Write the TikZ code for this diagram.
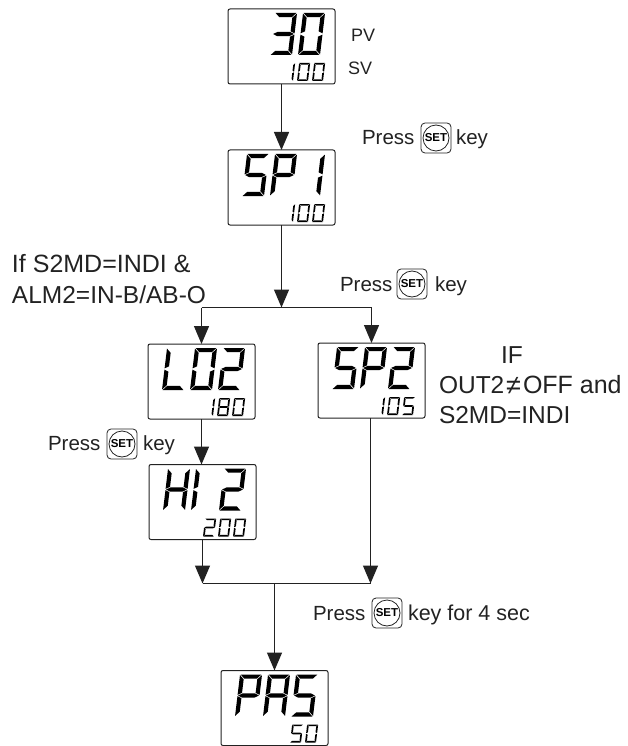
\documentclass[tikz,border=0pt]{standalone}
\usepackage{fontspec}
\setmainfont{Liberation Sans}
\usetikzlibrary{arrows.meta}
\definecolor{ink}{HTML}{222222}
\tikzset{
  screen/.style={draw=ink,line width=1pt,rounded corners=2pt,minimum width=107pt,minimum height=75pt,inner sep=0,outer sep=0},
  flow/.style={draw=ink,line width=1.3pt},
  arrowflow/.style={flow,-{Triangle[length=18pt,width=15pt]}},
  lab/.style={anchor=base west,inner sep=0,outer sep=0,text=ink,font=\fontsize{24.5}{24.5}\selectfont},
  widelab/.style={lab,font=\fontsize{25}{25}\selectfont},
  nelab/.style={lab,font=\fontsize{27}{27}\selectfont},
  presslab/.style={lab,font=\fontsize{20.5}{20.5}\selectfont},
  longlab/.style={lab,font=\fontsize{21.5}{21.5}\selectfont},
  svlab/.style={lab,font=\fontsize{18}{18}\selectfont},
  keybox/.style={draw=ink,line width=.8pt,rounded corners=4pt,minimum size=30pt,inner sep=0,outer sep=0},
  keydisc/.style={draw=ink,line width=.8pt,circle,minimum size=26pt,inner sep=0,text=black,font=\fontsize{11.5}{11.5}\selectfont\bfseries},
  seg/.style={fill=black,draw=none}
}
\newcommand\sega{\fill[seg] (\G,\H)--(\W-\G,\H)--(\W-\G-\T,\H-\T)--(\G+\T,\H-\T)--cycle;}
\newcommand\segd{\fill[seg] (\G,0)--(\W-\G,0)--(\W-\G-\T,\T)--(\G+\T,\T)--cycle;}
\newcommand\segg{\fill[seg] (\G,\H/2)--(\G+\T,\H/2+\T/2)--(\W-\G-\T,\H/2+\T/2)--(\W-\G,\H/2)--(\W-\G-\T,\H/2-\T/2)--(\G+\T,\H/2-\T/2)--cycle;}
\newcommand\segf{\fill[seg] (0,\H-\G)--(\T,\H-\G-\T)--(\T,\H/2+\G+\T/2)--(0,\H/2+\G)--cycle;}
\newcommand\sege{\fill[seg] (0,\G)--(\T,\G+\T)--(\T,\H/2-\G-\T/2)--(0,\H/2-\G)--cycle;}
\newcommand\segb{\fill[seg] (\W,\H-\G)--(\W-\T,\H-\G-\T)--(\W-\T,\H/2+\G+\T/2)--(\W,\H/2+\G)--cycle;}
\newcommand\segc{\fill[seg] (\W,\G)--(\W-\T,\G+\T)--(\W-\T,\H/2-\G-\T/2)--(\W,\H/2-\G)--cycle;}
% big digit: box, cell, segments
\newcommand\bigd[3]{\begin{scope}[x=1pt,y=1pt,shift={(#1.north west)},shift={(14+28*#2,-46)},xslant=.12]
  \def\W{22}\def\H{42}\def\T{4.2}\def\G{.6}
  \foreach \sg in {#3}{\csname seg\sg\endcsname}
\end{scope}}
% small digit
\newcommand\smalld[3]{\begin{scope}[x=1pt,y=1pt,shift={(#1.north west)},shift={(54+15*#2,-72)},xslant=.12]
  \def\W{11}\def\H{18}\def\T{1.7}\def\G{.3}
  \foreach \sg in {#3}{\csname seg\sg\endcsname}
\end{scope}}
\newcommand\setkey[3]{\node[keybox] (#1) at (#2,#3) {}; \node[keydisc] at (#1) {SET};}
\begin{document}
\begin{tikzpicture}[x=1pt,y=-1pt]
\useasboundingbox (0,0) rectangle (627,746);
% screens
\node[screen] (pv) at (281.5,46.5) {};
\node[screen] (spa) at (281.5,187.5) {};
\node[screen] (lo) at (201.5,381.5) {};
\node[screen] (hi) at (202.5,502) {};
\node[screen] (spb) at (371.5,380.5) {};
\node[screen] (pas) at (274.5,708) {};
% big digits
\bigd{pv}{1}{a,b,c,d,g}\bigd{pv}{2}{a,b,c,d,e,f}
\smalld{pv}{0}{b,c}\smalld{pv}{1}{a,b,c,d,e,f}\smalld{pv}{2}{a,b,c,d,e,f}
\bigd{spa}{0}{a,c,d,f,g}\bigd{spa}{1}{a,b,e,f,g}\bigd{spa}{2}{b,c}
\smalld{spa}{0}{b,c}\smalld{spa}{1}{a,b,c,d,e,f}\smalld{spa}{2}{a,b,c,d,e,f}
\bigd{lo}{0}{d,e,f}\bigd{lo}{1}{a,b,c,d,e,f}\bigd{lo}{2}{a,b,d,e,g}
\smalld{lo}{0}{b,c}\smalld{lo}{1}{a,b,c,d,e,f,g}\smalld{lo}{2}{a,b,c,d,e,f}
\bigd{hi}{0}{b,c,e,f,g}\bigd{hi}{1}{e,f}\bigd{hi}{2}{a,b,d,e,g}
\smalld{hi}{0}{a,b,d,e,g}\smalld{hi}{1}{a,b,c,d,e,f}\smalld{hi}{2}{a,b,c,d,e,f}
\bigd{spb}{0}{a,c,d,f,g}\bigd{spb}{1}{a,b,e,f,g}\bigd{spb}{2}{a,b,d,e,g}
\smalld{spb}{0}{b,c}\smalld{spb}{1}{a,b,c,d,e,f}\smalld{spb}{2}{a,c,d,f,g}
\bigd{pas}{0}{a,b,e,f,g}\bigd{pas}{1}{a,b,c,e,f,g}\bigd{pas}{2}{a,c,d,f,g}
\smalld{pas}{1}{a,c,d,f,g}\smalld{pas}{2}{a,b,c,d,e,f}
% junctions
\coordinate (split) at (281.5,307.5);
\coordinate (splitl) at (lo.north |- split);
\coordinate (splitr) at (spb.north |- split);
\coordinate (merge) at (274.5,583.5);
\coordinate (mergel) at (hi.south |- merge);
\coordinate (merger) at (370.5,583.5);
\coordinate (spbout) at (370.5,418);
% connectors
\draw[arrowflow] (pv) -- (spa);
\draw[arrowflow] (spa) -- (split);
\draw[flow] (splitl) -- (splitr);
\draw[arrowflow] (splitl) -- (lo);
\draw[arrowflow] (splitr) -- (spb);
\draw[arrowflow] (lo.south) -- (lo.south |- hi.north);
\draw[arrowflow] (hi) -- (mergel);
\draw[arrowflow] (spbout) -- (merger);
\draw[flow] (mergel) -- (merger);
\draw[arrowflow] (merge) -- (pas);
% labels
\node[svlab] (pvt) at (351,42) {PV};
\node[svlab] (svt) at (348,75) {SV};
\node[presslab] (p1) at (362,145) {Press};
\setkey{k1}{436}{138}
\node[presslab] (k1t) at (456,145) {key};
\node[widelab] (c1) at (12,272) {If S2MD=INDI \&};
\node[lab] (c2) at (12,303) {ALM2=IN-B/AB-O};
\node[presslab] (p2) at (340,291) {Press};
\setkey{k2}{412}{284}
\node[presslab] (k2t) at (435,291) {key};
\node[presslab] (p3) at (48,450) {Press};
\setkey{k3}{122}{444}
\node[presslab] (k3t) at (143,450) {key};
\node[lab] (c3) at (501,363) {IF};
\node[lab] (c4a) at (439,393) {OUT2};
\node[nelab] (c4b) at (506,394) {≠};
\node[widelab] (c4c) at (523,393) {OFF and};
\node[lab] (c5) at (439,423) {S2MD=INDI};
\node[presslab] (p4) at (313,620) {Press};
\setkey{k4}{387}{613}
\node[longlab] (k4t) at (408,620) {key for 4 sec};
\end{tikzpicture}
\end{document}
